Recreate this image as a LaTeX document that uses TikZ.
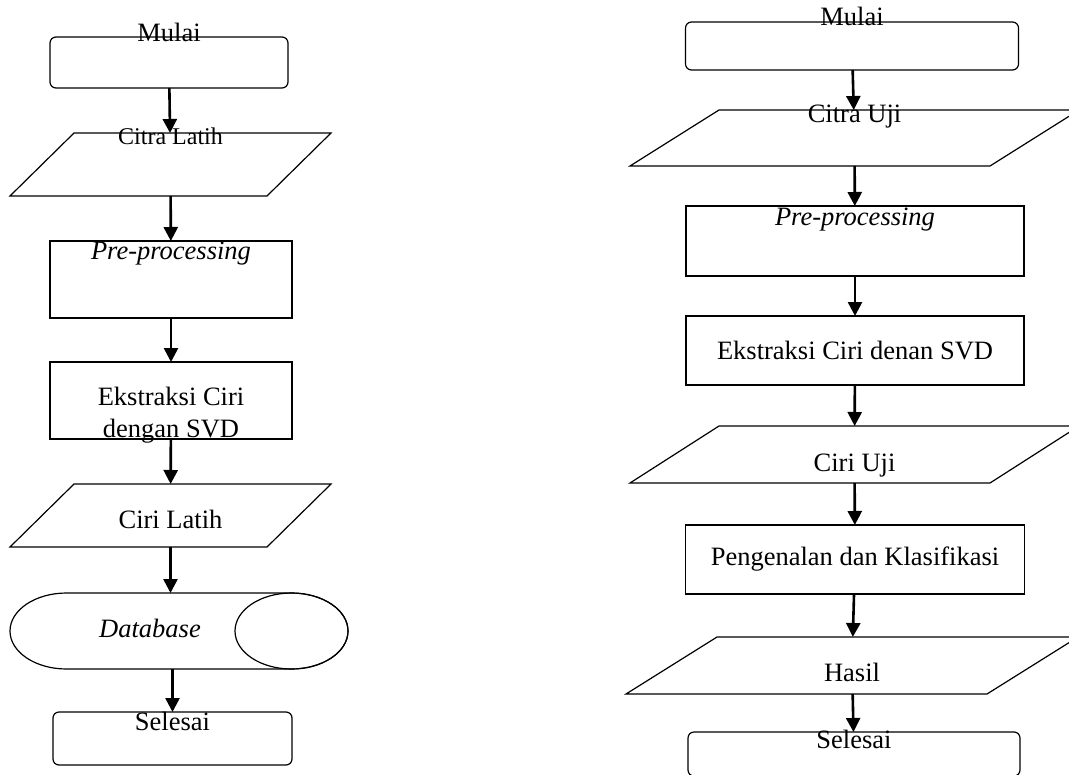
\documentclass[tikz,border=0pt]{standalone}
\usepackage{fontspec}
\setmainfont{Liberation Serif}
\usetikzlibrary{arrows.meta}

\tikzset{
	flowline/.style={line width=0.6pt},
	flowbox/.style={draw,flowline,inner sep=0pt,outer sep=0pt},
	terminal/.style={flowbox,rounded corners=3pt},
	process/.style={flowbox},
	hidden/.style={inner sep=0pt,outer sep=0pt},
	txt/.style={anchor=base,inner sep=0pt},
	flowarrow/.style={-{Triangle[width=7pt,length=7pt]},line width=1.3pt}
}
% parallelogram drawn over the frame of a named node
\newcommand{\iobox}[2]{\draw[flowline] ([xshift=#2]#1.north west) -- (#1.north east) -- ([xshift=-#2]#1.south east) -- (#1.south west) -- cycle;}

\begin{document}
\begin{tikzpicture}[x=0.5pt,y=-0.5pt,font=\fontsize{13.25}{16}\selectfont]
	\useasboundingbox (0,0) rectangle (1069,775);

	% pelatihan
	\node[terminal,minimum width=119pt,minimum height=25.5pt,label={[txt,yshift=-2.35pt]north:Mulai}] (mulaiL) at (169,62.5) {};
	\node[hidden,minimum width=160.5pt,minimum height=31.5pt,label={[txt,yshift=-6pt,font=\fontsize{12}{14}\selectfont]north:Citra Latih}] (citraL) at (170.5,164.5) {};
	\iobox{citraL}{32pt}
	\node[process,minimum width=121pt,minimum height=38.5pt,label={[txt,yshift=-9pt]north:\textit{Pre-processing}}] (preL) at (171,279.5) {};
	\node[process,minimum width=121pt,minimum height=38.5pt,label={[txt,yshift=-21.5pt]north:Ekstraksi Ciri},label={[txt,yshift=-37.5pt]north:dengan SVD}] (ekstrL) at (171,400.5) {};
	\node[hidden,minimum width=160.5pt,minimum height=31.5pt,label={[txt,yshift=-22.15pt]north:Ciri Latih}] (ciriL) at (170.5,515.5) {};
	\iobox{ciriL}{32pt}
	\node[hidden,minimum width=169pt,minimum height=38pt,label={[txt,xshift=-14.5pt,yshift=-22pt]north:\textit{Database}}] (dbL) at (179,631) {};
	\draw[flowline] ([xshift=28.25pt]dbL.south west) arc[start angle=270,end angle=90,x radius=28.25pt,y radius=19pt]
		-- ([xshift=-28.25pt]dbL.north east) arc[start angle=90,end angle=-90,x radius=28.25pt,y radius=19pt] -- cycle;
	\draw[flowline] ([xshift=-28.25pt]dbL.east) ellipse[x radius=28.25pt,y radius=19pt];
	\node[terminal,minimum width=119.5pt,minimum height=26.5pt,label={[txt,yshift=-9.35pt]north:Selesai}] (selesaiL) at (172.5,738.5) {};

	\draw[flowarrow] (mulaiL) -- (citraL);
	\draw[flowarrow] (citraL) -- (preL);
	\draw[flowarrow] (preL) -- (ekstrL);
	\draw[flowarrow] (ekstrL) -- (ciriL);
	\draw[flowarrow] (ciriL) -- (ciriL |- dbL.north);
	\draw[flowarrow] (dbL.south -| selesaiL) -- (selesaiL);

	% pengujian
	\node[terminal,minimum width=166.5pt,minimum height=24pt,label={[txt,yshift=-1.7pt]north:Mulai}] (mulaiR) at (852,46) {};
	\node[hidden,minimum width=224.5pt,minimum height=28pt,label={[txt,yshift=-6.35pt]north:Citra Uji}] (citraR) at (854.5,138) {};
	\iobox{citraR}{44.5pt}
	\node[process,minimum width=169pt,minimum height=35pt,label={[txt,yshift=-9.75pt]north:\textit{Pre-processing}}] (preR) at (855,241) {};
	\node[process,minimum width=169pt,minimum height=34.5pt] (ekstrR) at (855,350.5) {Ekstraksi Ciri denan SVD};
	\node[hidden,minimum width=224.5pt,minimum height=28.5pt,label={[txt,yshift=-22.85pt]north:Ciri Uji}] (ciriR) at (854.5,454.5) {};
	\iobox{ciriR}{44.5pt}
	\node[process,minimum width=169.5pt,minimum height=34.5pt] (kenalR) at (855,559.5) {Pengenalan dan Klasifikasi};
	\node[hidden,minimum width=226pt,minimum height=28.5pt,label={[txt,yshift=-22pt]north:Hasil}] (hasilR) at (852,665.5) {};
	\iobox{hasilR}{45.5pt}
	\node[terminal,minimum width=166pt,minimum height=22pt,label={[txt,yshift=-8pt]north:Selesai}] (selesaiR) at (854,754) {};

	\draw[flowarrow] (mulaiR) -- (citraR);
	\draw[flowarrow] (citraR) -- (preR);
	\draw[flowarrow] (preR) -- (ekstrR);
	\draw[flowarrow] (ekstrR) -- (ciriR);
	\draw[flowarrow] (ciriR) -- (kenalR);
	\draw[flowarrow] (kenalR) -- (hasilR);
	\draw[flowarrow] (hasilR) -- (selesaiR);
\end{tikzpicture}
\end{document}
